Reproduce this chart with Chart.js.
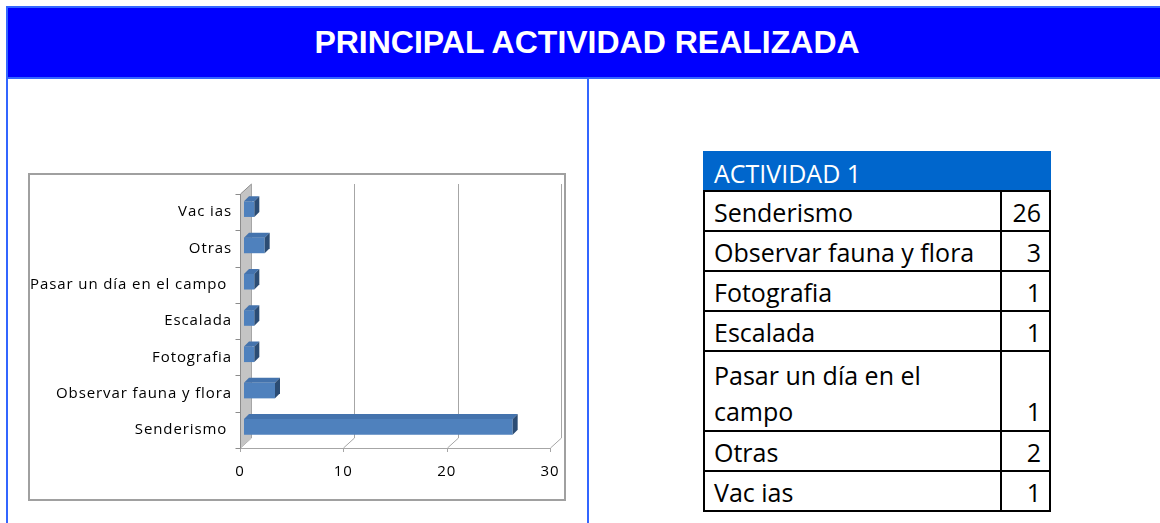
<!DOCTYPE html>
<html>
<head>
<meta charset="utf-8">
<script src="https://cdn.jsdelivr.net/npm/chart.js"></script>
<style>
  html, body { margin: 0; padding: 0; background: #fff; }
  body { width: 1160px; height: 523px; overflow: hidden; position: relative; font-family: 'Open Sans', sans-serif; }
  #titlebar { position: absolute; left: 6px; top: 6px; width: 1162px; height: 73px; box-sizing: border-box;
    background: #0000ff; border: 2px solid #3366ff; color: #fff; font-family: 'Liberation Sans', Arial, sans-serif;
    font-weight: bold; font-size: 32px; line-height: 69px; text-align: center; }
  .vline { position: absolute; top: 79px; width: 2px; height: 444px; background: #3366ff; }
  #chartbox { position: absolute; left: 28px; top: 173px; width: 538px; height: 328px; box-sizing: border-box;
    border: 2px solid #a0a0a0; }
  #chartbox canvas { display: block; }
  #thead { position: absolute; left: 703px; top: 151px; width: 348px; height: 40px; box-sizing: border-box;
    background: #0066cc; color: #fff; font-size: 25px; padding-left: 11px; line-height: 44px; }
  #tbl { position: absolute; left: 703px; top: 190px; width: 348px; border-collapse: collapse; font-size: 25px; color: #000; }
  #tbl td { border: 2px solid #000; line-height: 36px; padding: 2px 8px 0 9px; vertical-align: bottom; }
  #tbl tr.tall td { padding-top: 5px; padding-bottom: 1px; }
  #tbl td.num { text-align: right; width: 30px; }
</style>
</head>
<body>
<div id="titlebar">PRINCIPAL ACTIVIDAD REALIZADA</div>
<div class="vline" style="left:6px"></div>
<div class="vline" style="left:587px"></div>
<div id="chartbox"><canvas id="c" width="534" height="324"></canvas></div>
<div id="thead">ACTIVIDAD 1</div>
<table id="tbl"></table>
<script>
// ---- data ----
const categories = ['Senderismo ', 'Observar fauna y flora', 'Fotografia', 'Escalada', 'Pasar un día en el campo ', 'Otras', 'Vac ias'];
const values = [26, 3, 1, 1, 1, 2, 1];
const xTicks = [0, 10, 20, 30];

// ---- table ----
const tbl = document.getElementById('tbl');
categories.forEach((c, i) => {
  const tr = document.createElement('tr');
  const td1 = document.createElement('td'); td1.textContent = c.trim();
  const td2 = document.createElement('td'); td2.className = 'num'; td2.textContent = values[i];
  tr.appendChild(td1); tr.appendChild(td2); tbl.appendChild(tr);
});
Array.from(tbl.rows).forEach(r => { if (r.cells[0].offsetHeight > 60) r.classList.add('tall'); });

// ---- 3D look ----
const wallDepth = { dx: 11, dy: -10 };
const barShift = { dx: 4, dy: -3 };
const barDepth = { dx: 5, dy: -5 };

const threeD = {
  id: 'threeD',
  beforeDraw(chart) { chart.ctx.letterSpacing = '0.9px'; },
  beforeDatasetsDraw(chart) {
    const ctx = chart.ctx;
    const { left, right, top, bottom } = chart.chartArea;
    const xs = chart.scales.x, ys = chart.scales.y;
    ctx.save();
    ctx.lineWidth = 1;
    ctx.strokeStyle = '#a6a6a6';
    xs.ticks.forEach(t => {
      const px = Math.round(xs.getPixelForValue(t.value)) + 0.5;
      ctx.beginPath();
      if (t.value !== 0) {
        ctx.moveTo(px + wallDepth.dx, top + wallDepth.dy);
        ctx.lineTo(px + wallDepth.dx, bottom + wallDepth.dy);
      } else {
        ctx.moveTo(px + wallDepth.dx, bottom + wallDepth.dy);
      }
      ctx.lineTo(px, bottom);
      ctx.lineTo(px, bottom + 4);
      ctx.stroke();
    });
    ctx.beginPath();
    ctx.moveTo(left, Math.round(bottom) + 0.5);
    ctx.lineTo(xs.getPixelForValue(xTicks[xTicks.length - 1]), Math.round(bottom) + 0.5);
    ctx.stroke();
    const lx = Math.round(left) + 0.5;
    ctx.beginPath();
    ctx.moveTo(lx, bottom);
    ctx.lineTo(lx, top);
    ctx.lineTo(lx + wallDepth.dx, top + wallDepth.dy);
    ctx.lineTo(lx + wallDepth.dx, bottom + wallDepth.dy);
    ctx.closePath();
    ctx.fillStyle = '#c4c4c4';
    ctx.fill();
    ctx.strokeStyle = '#8c8c8c';
    ctx.beginPath();
    ctx.moveTo(lx, bottom);
    ctx.lineTo(lx, top);
    ctx.lineTo(lx + wallDepth.dx, top + wallDepth.dy);
    ctx.stroke();
    ctx.strokeStyle = '#a6a6a6';
    ctx.beginPath();
    ctx.moveTo(lx + wallDepth.dx, top + wallDepth.dy);
    ctx.lineTo(lx + wallDepth.dx, bottom + wallDepth.dy);
    ctx.stroke();
    ctx.strokeStyle = '#8c8c8c';
    for (let i = 0; i <= categories.length; i++) {
      const py = Math.round(ys.getPixelForValue(i - 0.5)) + 0.5;
      ctx.beginPath();
      ctx.moveTo(lx - 5, py);
      ctx.lineTo(lx, py);
      ctx.stroke();
    }
    ctx.restore();
    ctx.save();
    ctx.translate(barShift.dx, barShift.dy);
  },
  afterDatasetsDraw(chart) {
    const ctx = chart.ctx;
    chart.getDatasetMeta(0).data.forEach(el => {
      const { x, y, base, height } = el.getProps(['x', 'y', 'base', 'height'], true);
      const t = y - height / 2, b = y + height / 2;
      ctx.beginPath();
      ctx.moveTo(base, t);
      ctx.lineTo(x, t);
      ctx.lineTo(x + barDepth.dx, t + barDepth.dy);
      ctx.lineTo(base + barDepth.dx, t + barDepth.dy);
      ctx.closePath();
      ctx.fillStyle = '#4473ad';
      ctx.fill();
      ctx.beginPath();
      ctx.moveTo(x, t);
      ctx.lineTo(x, b);
      ctx.lineTo(x + barDepth.dx, b + barDepth.dy);
      ctx.lineTo(x + barDepth.dx, t + barDepth.dy);
      ctx.closePath();
      ctx.fillStyle = '#2b4c74';
      ctx.fill();
    });
    ctx.restore();
  }
};

Chart.defaults.font.family = "'Open Sans', sans-serif";
Chart.defaults.color = '#000';

new Chart(document.getElementById('c'), {
  type: 'bar',
  data: {
    labels: categories,
    datasets: [{
      data: values,
      backgroundColor: '#4f81bd',
      borderWidth: 0,
      categoryPercentage: 1,
      barPercentage: 0.43
    }]
  },
  options: {
    indexAxis: 'y',
    responsive: false,
    animation: false,
    devicePixelRatio: 1,
    layout: { padding: { top: 19, right: 14, left: 0, bottom: 0 } },
    plugins: { legend: { display: false }, tooltip: { enabled: false } },
    scales: {
      x: {
        min: 0, max: 30,
        afterBuildTicks: s => { s.ticks = xTicks.map(v => ({ value: v })); },
        grid: { display: false, drawTicks: false },
        border: { display: false },
        ticks: { padding: 15, font: { size: 15 }, color: '#000' },
        afterFit: s => { s.height = 51; s.paddingLeft = 0; s.paddingRight = 0; }
      },
      y: {
        reverse: true,
        grid: { display: false, drawTicks: false },
        border: { display: false },
        ticks: { padding: 8, font: { size: 15 }, color: '#000', autoSkip: false },
        afterFit: s => { s.width = 210; s.paddingTop = 0; s.paddingBottom = 0; }
      }
    }
  },
  plugins: [threeD]
});
</script>
</body>
</html>
